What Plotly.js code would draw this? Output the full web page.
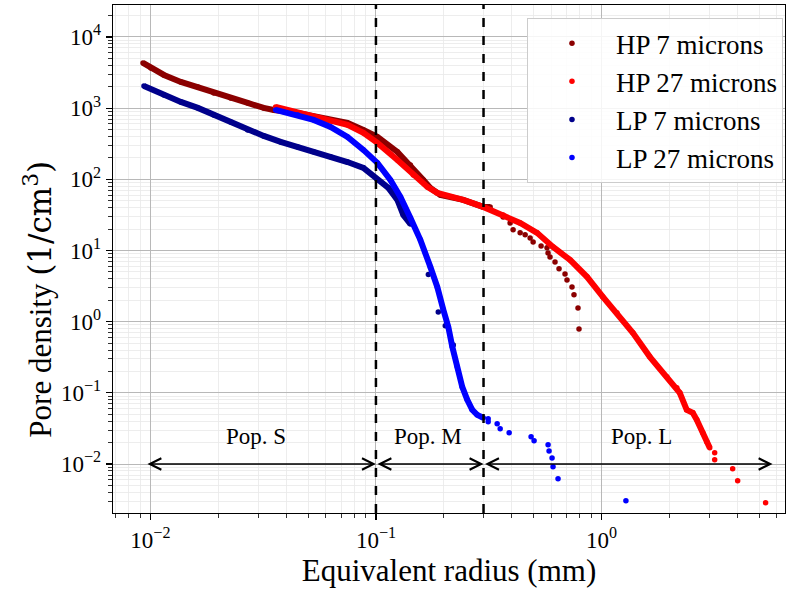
<!DOCTYPE html>
<html>
<head>
<meta charset="utf-8">
<script src="https://cdn.plot.ly/plotly-3.0.1.min.js"></script>
<style>html,body{margin:0;padding:0;background:#fff;}#chart{width:787px;height:590px;}</style>
</head>
<body>
<div id="chart"></div>
<script>
// ---- data ----
const seriesNames = ["HP 7 microns", "HP 27 microns", "LP 7 microns", "LP 27 microns"];

const hp7_x = [0.00927,0.01005,0.01148,0.01364,0.01623,0.0191,0.0227,0.0270,0.0318,0.0352,0.0450,0.0629,0.0748,0.0880,0.1015,0.1245,0.1421,0.1623,0.1743,0.1930,0.2439,0.2990,0.3210,0.3665,0.3935,0.4058,0.4360,0.4588,0.4828,0.4979,0.5400,0.5737,0.5797,0.5916,0.6226,0.6486,0.6895,0.7036,0.7404,0.7556,0.7871,0.7951];
const hp7_y = [4315,3670,2927,2335,1986,1635,1389,1183,1007,944,857,683,620,494,394,243,159,98,75.7,60.4,51.4,41.0,41.0,29.6,24.4,19.5,17.7,16.6,15.0,13.2,11.6,10.9,9.25,8.13,6.92,5.52,4.69,3.86,3.08,2.38,1.56,0.79];

const hp27_x = [0.03591,0.0450,0.0529,0.0629,0.0748,0.0880,0.1015,0.1245,0.1465,0.1690,0.1871,0.2439,0.2990,0.3665,0.4360,0.5184,0.6100,0.7255,0.8627,1.015,1.171,1.378,1.639,1.949,2.159,2.225,2.389,2.541,2.646,2.813,2.930,3.021,3.178,3.178,3.818,4.018,5.345];
const hp27_y = [1040,857,752,661,581,449,325,187,115,78.2,64.4,51.4,41.0,31.6,24.4,17.7,11.2,7.38,4.26,2.23,1.33,0.697,0.321,0.168,0.1175,0.1,0.0577,0.0524,0.0418,0.0274,0.0205,0.0169,0.0144,0.01146,0.00857,0.00581,0.00285];

const lp7_x = [0.00936,0.01148,0.01364,0.01623,0.0191,0.0227,0.0270,0.0318,0.0378,0.0450,0.0529,0.0629,0.0748,0.0880,0.1015,0.1136,0.1245,0.1323,0.1421,0.1708,0.1890,0.2030,0.2203];
const lp7_y = [2051,1532,1222,1007,802,640,494,407,335,285,243,207,175,145,98,75.7,51.4,31.6,23.6,4.6,1.37,0.873,0.472];

const lp27_x = [0.03591,0.0450,0.0529,0.0629,0.0748,0.0880,0.1015,0.1159,0.1284,0.1421,0.1574,0.1743,0.1871,0.1990,0.2094,0.2181,0.2294,0.2414,0.2541,0.2673,0.2812,0.2990,0.3146,0.3146,0.3448,0.3556,0.3897,0.4876,0.5027,0.5799,0.5858,0.6039,0.6100,0.6420,1.284];
const lp27_y = [944,802,683,545,394,259,170,98,56.6,28.7,14.1,5.88,3.08,1.47,0.845,0.443,0.232,0.121,0.0798,0.0577,0.0491,0.0446,0.0432,0.0392,0.0367,0.0312,0.0274,0.0241,0.0212,0.0186,0.0153,0.0122,0.00914,0.00619,0.00304];

// axis ticks
const xTickVals = [0.01, 0.1, 1];
const xTickText = ["10<sup>−2</sup>", "10<sup>−1</sup>", "10<sup>0</sup>"];
const yTickVals = [0.01, 0.1, 1, 10, 100, 1000, 10000];
const yTickText = ["10<sup>−2</sup>", "10<sup>−1</sup>", "10<sup>0</sup>", "10<sup>1</sup>", "10<sup>2</sup>", "10<sup>3</sup>", "10<sup>4</sup>"];

// population boundaries and labels
const popBounds = [0.00955, 0.1, 0.3, 5.74];
const popLabels = ["Pop. S", "Pop. M", "Pop. L"];
const popLabelX = [0.0293, 0.171, 1.51];
const popArrowY = 0.01;
const popLabelY = 0.024;
const dividers = [0.1, 0.3];

// ---- styling ----
const colors = ["#8b0000", "#ff0000", "#00008b", "#0000ff"];
const xs = [hp7_x, hp27_x, lp7_x, lp27_x];
const ys = [hp7_y, hp27_y, lp7_y, lp27_y];
const denseCount = [23, 32, 19, 22];
const FONT = "Liberation Serif, Times New Roman, serif";

const traces = [];
for (let i = 0; i < 4; i++) {
  traces.push({
    x: xs[i].slice(0, denseCount[i]), y: ys[i].slice(0, denseCount[i]),
    type: "scatter", mode: "lines", line: {color: colors[i], width: 6},
    legendgroup: "g" + i, showlegend: false, hoverinfo: "skip"
  });
  traces.push({
    x: xs[i], y: ys[i], type: "scatter", mode: "markers", name: seriesNames[i],
    marker: {color: colors[i], size: 5.5}, legendgroup: "g" + i
  });
}

const annotations = [];
for (let k = 0; k < 3; k++) {
  annotations.push({
    x: Math.log10(popBounds[k + 1]), y: Math.log10(popArrowY),
    ax: Math.log10(popBounds[k]), ay: Math.log10(popArrowY),
    xref: "x", yref: "y", axref: "x", ayref: "y",
    text: "", showarrow: true, arrowhead: 5, startarrowhead: 5, arrowside: "end+start",
    arrowsize: 1.5, startarrowsize: 1.5, arrowwidth: 1.5, arrowcolor: "#000", standoff: 0, startstandoff: 0
  });
  annotations.push({
    x: Math.log10(popLabelX[k]), y: Math.log10(popLabelY), xref: "x", yref: "y",
    text: popLabels[k], showarrow: false, font: {family: FONT, size: 23, color: "#000"}
  });
}
// y-axis title
annotations.push({
  xref: "paper", yref: "paper", x: -0.1116, y: 0.42, xanchor: "center", yanchor: "middle",
  textangle: -90, showarrow: false,
  text: "Pore density <span style=\"font-family:'DejaVu Serif'\">(1/cm<sup>3</sup>)</span>",
  font: {family: FONT, size: 31, color: "#000"}
});

const shapes = dividers.map(d => ({
  type: "line", xref: "x", yref: "paper", x0: d, x1: d, y0: 0, y1: 1,
  line: {color: "#000", width: 2.5, dash: "dash"}
}));

const axisCommon = {
  type: "log", tickmode: "array", showline: true, mirror: true,
  linecolor: "#000", linewidth: 1.3, ticks: "outside", ticklen: 6, tickwidth: 1.2, tickcolor: "#000",
  showgrid: true, gridcolor: "#b8b8b8", gridwidth: 1, zeroline: false,
  tickfont: {family: FONT, size: 23, color: "#000"},
  minor: {dtick: "D1", ticks: "outside", ticklen: 3.5, tickwidth: 0.8, tickcolor: "#000", showgrid: true, gridcolor: "#e8e8e8", gridwidth: 0.8}
};

const layout = {
  width: 787, height: 590,
  margin: {l: 113, r: 2, t: 5, b: 77},
  paper_bgcolor: "#fff", plot_bgcolor: "#fff",
  showlegend: true,
  xaxis: Object.assign({}, axisCommon, {
    range: [-2.166, 0.814], tickvals: xTickVals, ticktext: xTickText,
    title: {text: "Equivalent radius (mm)", font: {family: FONT, size: 31, color: "#000"}, standoff: 2}
  }),
  yaxis: Object.assign({}, axisCommon, {
    range: [-2.688, 4.449], tickvals: yTickVals, ticktext: yTickText
  }),
  legend: {
    x: 0.997, xanchor: "right", y: 0.974, yanchor: "top",
    bgcolor: "rgba(255,255,255,0.85)", bordercolor: "#cccccc", borderwidth: 1,
    font: {family: FONT, size: 27, color: "#000"},
    traceorder: "grouped", tracegroupgap: 0, itemwidth: 78
  },
  annotations: annotations,
  shapes: shapes
};

Plotly.newPlot("chart", traces, layout, {displayModeBar: false, staticPlot: true});
</script>
</body>
</html>
